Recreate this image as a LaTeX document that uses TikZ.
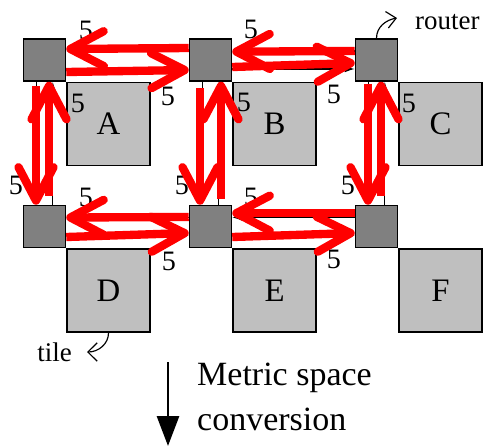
\documentclass[tikz,border=0pt]{standalone}
\usepackage{fontspec}
\setmainfont{Liberation Serif}
\usetikzlibrary{arrows.meta,positioning}

\tikzset{
  router/.style={rectangle, draw, line width=1.3pt, fill=gray, minimum size=1.26cm, inner sep=0pt},
  tile/.style={rectangle, draw, line width=1.3pt, fill=gray!50, minimum size=2.49cm, inner sep=0pt, anchor=north west, font=\fontsize{28}{30}\selectfont},
  link/.style={line width=1pt, -{Latex[length=.3cm,width=.2cm]}},
  flow/.style={red, line width=.25cm, -{Straight Barb[length=1cm,width=1.05cm,round]}},
  num/.style={inner sep=0pt, font=\fontsize{24}{26}\selectfont},
  note/.style={inner sep=0pt, font=\fontsize{23}{26}\selectfont},
}

\begin{document}
\begin{tikzpicture}
\useasboundingbox (0,0) rectangle (14.49cm,-13.41cm);

% routers
\node [router] (rA) at (1.335cm,-1.8cm) {};
\node [router] (rB) at (6.315cm,-1.8cm) {};
\node [router] (rC) at (11.295cm,-1.8cm) {};
\node [router] (rD) at (1.335cm,-6.795cm) {};
\node [router] (rE) at (6.315cm,-6.795cm) {};
\node [router] (rF) at (11.295cm,-6.795cm) {};

% tiles hang off the router corners
\node [tile] (tA) at (rA.south east) {A};
\node [tile] (tB) at (rB.south east) {B};
\node [tile] (tC) at (rC.south east) {C};
\node [tile] (tD) at (rD.south east) {D};
\node [tile] (tE) at (rE.south east) {E};
\node [tile] (tF) at (rF.south east) {F};

%---------------------------------------------------------------
% links
\draw [link] ([yshift=.27cm]rB.west) -- ([yshift=.27cm]rA.east);
\draw [link] ([yshift=-.27cm]rA.east) -- ([yshift=-.27cm]rB.west);
\draw [link] ([yshift=.27cm]rC.west) -- ([yshift=.27cm]rB.east);
\draw [link] ([yshift=-.27cm]rB.east) -- ([yshift=-.27cm]rC.west);
\draw [link] ([yshift=.27cm]rE.west) -- ([yshift=.27cm]rD.east);
\draw [link] ([yshift=-.27cm]rD.east) -- ([yshift=-.27cm]rE.west);
\draw [link] ([yshift=.27cm]rF.west) -- ([yshift=.27cm]rE.east);
\draw [link] ([yshift=-.27cm]rE.east) -- ([yshift=-.27cm]rF.west);

\draw [link] ([xshift=-.25cm]rA.south) -- ([xshift=-.25cm]rD.north);
\draw [link] ([xshift=.25cm]rD.north) -- ([xshift=.25cm]rA.south);
\draw [link] ([xshift=-.25cm]rB.south) -- ([xshift=-.25cm]rE.north);
\draw [link] ([xshift=.25cm]rE.north) -- ([xshift=.25cm]rB.south);
\draw [link] ([xshift=-.25cm]rC.south) -- ([xshift=-.25cm]rF.north);
\draw [link] ([xshift=.25cm]rF.north) -- ([xshift=.25cm]rC.south);

%---------------------------------------------------------------
% weights
\node [num] (w1) at (2.58cm,-.9cm) {5};
\node [num] (w2) at (5.04cm,-2.88cm) {5};
\node [num] (w3) at (7.53cm,-.87cm) {5};
\node [num] (w4) at (10.02cm,-2.82cm) {5};
\node [num] (w5) at (2.34cm,-3.09cm) {5};
\node [num] (w6) at (.48cm,-5.55cm) {5};
\node [num] (w7) at (7.32cm,-3.06cm) {5};
\node [num] (w8) at (5.46cm,-5.55cm) {5};
\node [num] (w9) at (12.27cm,-3.09cm) {5};
\node [num] (w10) at (10.44cm,-5.55cm) {5};
\node [num] (w11) at (2.58cm,-5.91cm) {5};
\node [num] (w12) at (5.07cm,-7.83cm) {5};
\node [num] (w13) at (7.53cm,-5.91cm) {5};
\node [num] (w14) at (10.02cm,-7.77cm) {5};

%---------------------------------------------------------------
% traffic
\draw [flow] ([yshift=.36cm]rB.west) -- ([yshift=.33cm]rA.east);
\draw [flow] ([yshift=-.36cm]rA.east) -- ([yshift=-.3cm]rB.west);
\draw [flow] ([yshift=.27cm]rC.west) -- ([yshift=.25cm]rB.east);
\draw [flow] ([yshift=-.21cm]rB.east) -- ([yshift=-.09cm]rC.west);
\draw [flow] ([yshift=.285cm]rE.west) -- ([yshift=.27cm]rD.east);
\draw [flow] ([yshift=-.315cm]rD.east) -- ([yshift=-.195cm]rE.west);
\draw [flow] ([yshift=.4cm]rF.west) -- ([yshift=.4cm]rE.east);
\draw [flow] ([yshift=-.315cm]rE.east) -- ([yshift=-.195cm]rF.west);

\draw [flow] ([xshift=-.255cm,yshift=-.12cm]rA.south) -- ([xshift=-.255cm]rD.north);
\draw [flow] ([xshift=.135cm,yshift=.27cm]rD.north) -- ([xshift=.135cm]rA.south);
\draw [flow] ([xshift=-.315cm,yshift=-.18cm]rB.south) -- ([xshift=-.315cm]rE.north);
\draw [flow] ([xshift=.315cm,yshift=.18cm]rE.north) -- ([xshift=.315cm]rB.south);
\draw [flow] ([xshift=-.255cm,yshift=-.06cm]rC.south) -- ([xshift=-.255cm]rF.north);
\draw [flow] ([xshift=.135cm,yshift=.27cm]rF.north) -- ([xshift=.135cm]rC.south);

%---------------------------------------------------------------
% callouts
\coordinate (routertip) at (11.91cm,-.54cm);
\node [note, anchor=west] (routerlbl) at (12.45cm,-.66cm) {router};
\draw [line width=1pt, -{Straight Barb[length=.28cm,width=.5cm]}] (rC.north) to[out=90,in=190] (routertip);

\coordinate (tiletip) at (2.61cm,-10.56cm);
\node [note, left=.45cm of tiletip] (tilelbl) {tile};
\draw [line width=1pt, -{Straight Barb[length=.28cm,width=.55cm]}] (tD.south) to[out=-90,in=0] (tiletip);

%---------------------------------------------------------------
\coordinate (convtop) at (5.04cm,-10.86cm);
\coordinate (convbot) at (5.04cm,-13.38cm);
\draw [line width=2.5pt, -{Triangle[length=.9cm,width=.66cm]}] (convtop) -- (convbot);
\node [note, font=\fontsize{29}{39}\selectfont, align=left, anchor=west] (conv) at (5.91cm,-11.91cm) {Metric space\\conversion};

\end{tikzpicture}
\end{document}
